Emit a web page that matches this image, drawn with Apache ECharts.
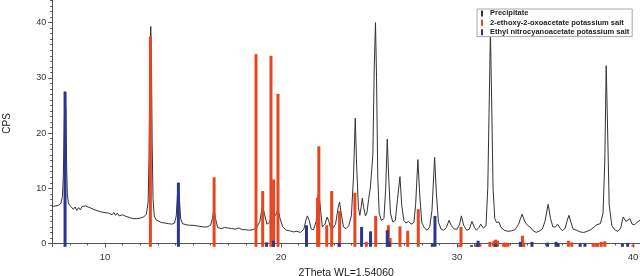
<!DOCTYPE html>
<html>
<head>
<meta charset="utf-8">
<script src="https://cdn.jsdelivr.net/npm/echarts@6/dist/echarts.min.js"></script>
<style>html,body{margin:0;padding:0;background:#fff}#c{width:640px;height:276px}</style>
</head>
<body>
<div id="c"></div>
<script>
var SERIES_NAMES = ['Precipitate', '2-ethoxy-2-oxoacetate potassium salt', 'Ethyl nitrocyanoacetate potassium salt'];
var X_LABELS = [10, 20, 30, 40];
var Y_LABELS = [0, 10, 20, 30, 40];
var X_MIN = 7, X_MAX = 40.4, Y_MIN = -0.6, Y_MAX = 44.1;

var PRECIPITATE = [
[7.0,6.7],[7.2,6.8],[7.35,6.9],[7.5,7.3],[7.58,8.5],[7.63,12],[7.68,20],[7.72,27.5],[7.75,27.8],[7.78,24],[7.82,14],[7.86,9],[7.92,7.3],[8.0,6.9],[8.1,6.7],
[8.2,6.2],[8.3,6.6],[8.4,6.0],[8.5,6.5],[8.6,6.1],[8.7,6.7],[8.8,6.5],[8.9,6.8],[9.0,6.5],[9.2,6.4],[9.4,6.1],[9.6,5.9],[9.8,5.7],[10.0,5.6],[10.2,5.5],[10.4,5.2],[10.5,5.6],[10.6,5.1],[10.7,5.5],[10.8,5.0],[11.0,5.2],[11.2,4.9],[11.4,4.7],[11.6,4.5],[11.8,4.5],[12.0,4.6],[12.2,4.8],[12.35,5.3],[12.45,7.5],[12.5,15],[12.55,30],[12.6,39.3],[12.64,33],[12.68,18],[12.73,8],[12.8,5],[12.9,4.3],[13.0,4.0],
[13.2,3.8],[13.4,3.7],[13.6,3.6],[13.8,3.5],[13.95,3.7],[14.05,5],[14.12,9],[14.17,11.0],[14.22,8.5],[14.3,4.5],[14.4,3.6],[14.6,3.4],[14.8,3.3],[15.0,3.3],[15.2,3.2],[15.4,3.1],[15.6,3.0],[15.8,3.0],[16.0,3.3],[16.1,4.5],[16.2,6.3],[16.28,4.5],[16.4,2.9],[16.6,2.7],[16.8,2.9],[17.0,2.8],[17.2,2.7],[17.4,2.6],[17.6,2.8],[17.8,2.5],[18.0,2.5],[18.2,2.4],[18.4,2.5],[18.6,2.8],[18.8,4],[18.95,6.9],[19.05,5.5],[19.2,3.5],[19.35,3.8],[19.45,5],[19.55,6.0],[19.65,5.0],[19.75,5.5],[19.83,6.3],[19.95,4.5],[20.1,3.0],[20.3,2.4],[20.5,2.3],[20.7,2.1],[20.9,2.2],[21.1,2.0],[21.3,2.6],[21.42,4.3],[21.5,5.0],[21.6,4.2],[21.72,2.6],[21.85,2.5],[22.0,4.0],[22.1,8.5],[22.15,9.4],[22.22,7],[22.35,3.0],[22.5,3.5],[22.62,4.8],[22.72,4.0],[22.8,3.0],[22.95,2.8],[23.1,3.5],[23.25,6.5],[23.33,7.5],[23.42,5.5],[23.55,3.0],[23.7,2.7],[23.85,3.2],[24.0,5],[24.12,12],[24.22,22.7],[24.3,14],[24.4,6.5],[24.48,5.1],[24.55,6.5],[24.62,8.2],[24.7,6.5],[24.8,5.0],[24.88,5.5],[24.98,8],[25.08,10.2],[25.15,10.0],[25.22,16],[25.3,32],[25.37,40],[25.43,30],[25.5,12],[25.58,5.5],[25.7,4.2],[25.85,4.5],[25.95,10],[26.04,18.9],[26.12,12],[26.22,5.5],[26.35,3.9],[26.5,4.2],[26.62,8],[26.76,12.1],[26.86,7],[26.98,4.2],[27.1,3.7],[27.25,4.0],[27.4,3.5],[27.55,3.8],[27.65,7],[27.78,15.2],[27.88,9],[28.0,3.8],[28.15,2.8],[28.3,2.4],[28.45,3.0],[28.58,6],[28.73,15.6],[28.83,9],[28.95,3.8],[29.1,2.6],[29.25,2.4],[29.4,2.9],[29.55,4.2],[29.68,3.2],[29.85,2.6],[30.0,2.6],[30.15,3.5],[30.25,5.0],[30.38,3.3],[30.55,2.4],[30.7,2.6],[30.85,4.0],[30.98,3.0],[31.1,2.4],[31.25,2.9],[31.35,3.5],[31.5,2.8],[31.65,3.2],[31.75,10],[31.83,25],[31.9,38.5],[31.97,26],[32.05,10],[32.15,4.5],[32.25,3.8],[32.38,3.9],[32.5,2.9],[32.7,2.4],[32.9,2.2],[33.1,2.3],[33.3,2.5],[33.5,3.5],[33.7,5.3],[33.85,4.0],[34.0,3.3],[34.15,3.0],[34.3,2.4],[34.5,2.0],[34.7,2.3],[34.85,2.6],[35.0,4],[35.18,7.1],[35.32,4.5],[35.45,3.0],[35.6,3.0],[35.72,3.5],[35.85,2.8],[36.0,2.3],[36.15,2.8],[36.25,4],[36.36,5.1],[36.48,3.8],[36.6,2.6],[36.8,2.4],[37.0,2.1],[37.2,2.0],[37.4,2.2],[37.6,2.5],[37.8,3.0],[37.95,3.4],[38.15,3.6],[38.3,5.5],[38.4,15],[38.48,32.2],[38.55,22],[38.65,7],[38.8,3.2],[39.0,2.4],[39.15,2.2],[39.3,2.8],[39.45,4.8],[39.6,4.0],[39.7,4.2],[39.83,4.5],[39.95,3.5],[40.1,3.4],[40.25,3.9],[40.4,4.2]
];

var OXOACETATE = [
[12.58,37.5],[16.2,12.0],[18.58,34.3],[18.96,9.5],[19.43,34.0],[19.58,11.6],[19.83,27.1],[22.08,8.3],[22.15,17.6],[22.6,3.3],[22.88,9.5],[23.33,5.9],[24.2,9.2],[24.85,0.3],[25.38,5.0],[26.1,3.3],[26.2,1.0],[26.76,3.1],[27.2,2.3],[27.8,6.2],[30.15,-0.25],[30.23,3.0],[31.05,-0.25],[31.3,0],[31.87,0.3],[32.1,0.5],[32.2,0.7],[32.3,0.5],[32.65,0.15],[32.76,0.15],[32.9,0],[33.72,1.4],[33.8,0.15],[36.33,0.5],[36.52,0.2],[37.74,0.1],[37.9,0.1],[38.0,0.1],[38.2,0.3],[38.4,0.4],[40.0,-0.2]
];

var NITROCYANO = [
[7.73,27.5],[14.17,11.0],[19.18,0.2],[19.58,0.5],[21.45,3.3],[23.3,0.1],[24.58,3.0],[25.09,2.2],[26.04,2.4],[26.15,0.3],[28.6,0],[28.75,5.0],[30.83,-0.3],[31.15,-0.1],[31.2,0.5],[32.2,0],[33.6,0.3],[34.26,0.3],[35.15,0.15],[35.63,0.3],[35.75,0],[37.0,0],[37.27,0],[39.4,0],[39.7,0.1]
];

var MINOR_X = [], MINOR_Y = [];
for (var i = 8; i <= 40; i++) MINOR_X.push(i);
for (var j = 0; j <= 44; j++) MINOR_Y.push(j);

var FONT = 'Liberation Sans, Arial, sans-serif';
var BLACK = '#333333', RED = '#e8461f', BLUE = '#2b3592';

function stickRender(params, api) {
  var x = api.value(0), v = api.value(1);
  var top = api.coord([x, v]);
  var base = api.coord([x, Y_MIN]);
  return {
    type: 'rect',
    shape: { x: top[0] - 1.5, y: top[1], width: 3, height: base[1] - top[1] },
    style: { fill: api.visual('color') }
  };
}

var chart = echarts.init(document.getElementById('c'), null, { renderer: 'canvas' });
chart.setOption({
  animation: false,
  textStyle: { fontFamily: FONT },
  grid: { left: 52.2, right: 0, top: 0, bottom: 29.2, containLabel: false, outerBoundsMode: 'none' },
  legend: {
    orient: 'vertical', left: 477, top: 9,
    icon: 'rect', itemWidth: 2, itemHeight: 6, itemGap: 0.6,
    padding: [0, 3, 0, 4],
    backgroundColor: '#fff', borderColor: '#a8a8a8', borderWidth: 1,
    textStyle: { fontFamily: FONT, fontSize: 7.5, fontWeight: 'bold', color: '#222', lineHeight: 8.8, padding: [0, 0, 0, 2] },
    data: SERIES_NAMES
  },
  xAxis: [{
    type: 'value', min: X_MIN, max: X_MAX,
    name: '2Theta WL=1.54060', nameLocation: 'middle', nameGap: 20,
    nameTextStyle: { fontFamily: FONT, fontSize: 10.5, color: '#222' },
    axisLine: { show: true, lineStyle: { color: '#555', width: 1 } },
    axisTick: { show: true, customValues: X_LABELS, length: 4, lineStyle: { color: '#555' } },
    axisLabel: { customValues: X_LABELS, fontSize: 9.5, color: '#333', margin: 6, fontFamily: FONT },
    splitLine: { show: false }
  }, {
    type: 'value', min: X_MIN, max: X_MAX, position: 'bottom',
    axisLine: { show: false },
    axisTick: { show: true, customValues: MINOR_X, length: 2, lineStyle: { color: '#555' } },
    axisLabel: { show: false },
    splitLine: { show: false }
  }],
  yAxis: [{
    type: 'value', min: Y_MIN, max: Y_MAX,
    name: 'CPS', nameLocation: 'middle', nameGap: 40, nameRotate: 90,
    nameTextStyle: { fontFamily: FONT, fontSize: 10, color: '#222' },
    axisLine: { show: true, lineStyle: { color: '#555', width: 1 } },
    axisTick: { show: true, customValues: Y_LABELS, length: 4, lineStyle: { color: '#555' } },
    axisLabel: { customValues: Y_LABELS, fontSize: 9, color: '#333', margin: 6, fontFamily: FONT },
    splitLine: { show: false }
  }, {
    type: 'value', min: Y_MIN, max: Y_MAX, position: 'left',
    axisLine: { show: false },
    axisTick: { show: true, customValues: MINOR_Y, length: 2, lineStyle: { color: '#555' } },
    axisLabel: { show: false },
    splitLine: { show: false }
  }],
  series: [{
    name: SERIES_NAMES[0], type: 'line', data: PRECIPITATE, showSymbol: false,
    z: 2, lineStyle: { color: BLACK, width: 1 }, itemStyle: { color: BLACK }
  }, {
    name: SERIES_NAMES[1], type: 'custom', data: OXOACETATE, renderItem: stickRender,
    encode: { x: 0, y: 1 }, z: 3, itemStyle: { color: RED }
  }, {
    name: SERIES_NAMES[2], type: 'custom', data: NITROCYANO, renderItem: stickRender,
    encode: { x: 0, y: 1 }, z: 3, itemStyle: { color: BLUE }
  }]
});
</script>
</body>
</html>
